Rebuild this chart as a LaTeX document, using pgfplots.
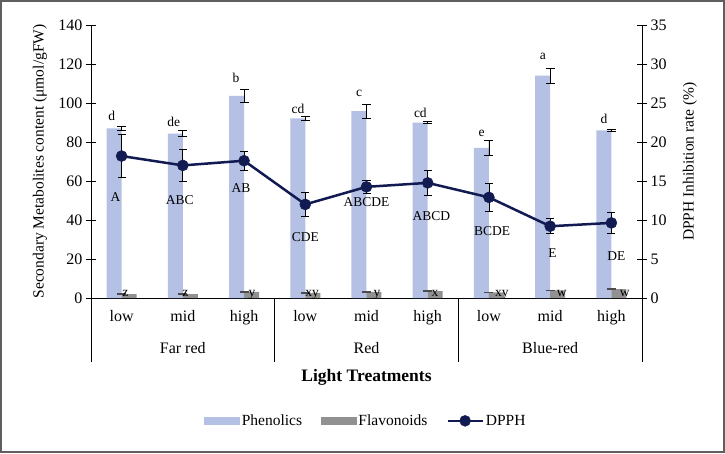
\documentclass[border=0pt]{standalone}
\usepackage{fontspec}
\setmainfont{Liberation Serif}
\usepackage{pgfplots}
\usepackage{pgfplotstable}
\pgfplotsset{compat=1.18}
\definecolor{phen}{RGB}{180,193,228}
\definecolor{flav}{RGB}{145,145,145}
\definecolor{dpph}{RGB}{18,26,82}
\definecolor{framegray}{RGB}{95,95,95}
\newcommand\fs[1]{\fontsize{#1}{#1}\selectfont}

\pgfplotstableread{
x p pe f fe d de
0 87.0 1.0 2.0 0.2 18.2 2.8
1 84.3 1.5 2.0 0.2 17.0 2.0
2 103.6 3.2 3.2 0.2 17.6 1.2
3 92.1 0.8 2.6 0.2 12.0 1.5
4 95.8 3.7 3.2 0.2 14.25 0.8
5 90.0 0.5 3.5 0.2 14.76 1.55
6 77.0 3.7 2.9 0.2 12.9 1.8
7 114.0 3.9 3.9 0.2 9.2 0.95
8 85.9 0.5 4.6 0.2 9.63 1.4
}\data

\begin{document}
\begin{tikzpicture}
\begin{axis}[
  scale only axis, width=551pt, height=273pt, at={(0,0)}, anchor=south west,
  xmin=-0.5, xmax=8.5, ymin=0, ymax=140,
  axis x line*=bottom, axis y line*=left,
  axis line style={line width=0.8pt, -},
  xtick={0,...,8}, xticklabels={low,mid,high,low,mid,high,low,mid,high},
  x tick style={draw=none},
  xticklabel style={font=\fs{16}, anchor=base, yshift=-23.5pt},
  ytick={0,20,...,140}, ytick align=center, major tick length=10pt,
  y tick style={line width=0.8pt, black},
  yticklabel style={font=\fs{16}},
  /pgf/number format/assume math mode=true,
  clip=false,
]
\addplot[ybar, bar width=15pt, bar shift=-7.5pt, fill=phen, draw=none,
  error bars/.cd, y dir=both, y explicit,
  error bar style={black, line width=0.8pt},
  error mark options={rotate=90, mark size=4.5pt, black, line width=0.8pt}]
  table[x=x, y=p, y error=pe] {\data};
\addplot[ybar, bar width=15pt, bar shift=7.5pt, fill=flav, draw=none,
  error bars/.cd, y dir=both, y explicit,
  error bar style={black!70, line width=0.8pt},
  error mark options={rotate=90, mark size=4.5pt, black!70, line width=0.8pt}]
  table[x=x, y=f, y error=fe] {\data};
% phenolics letters
\begin{scope}[every node/.style={font=\fs{13.5}, anchor=base, inner sep=0pt}]
\node at (axis cs:-0.16,90.9) {d};
\node at (axis cs:0.85,88.2) {de};
\node at (axis cs:1.87,110.4) {b};
\node at (axis cs:2.88,94.7) {cd};
\node at (axis cs:3.88,103.2) {c};
\node at (axis cs:4.88,92.7) {cd};
\node at (axis cs:5.88,82.7) {e};
\node at (axis cs:6.88,122.4) {a};
\node at (axis cs:7.88,89.6) {d};
% flavonoid letters
\node at (axis cs:0.06,0.6) {z};
\node at (axis cs:1.04,0.6) {z};
\node at (axis cs:2.13,0.6) {y};
\node at (axis cs:3.11,0.8) {xy};
\node at (axis cs:4.17,0.8) {y};
\node at (axis cs:5.12,0.8) {x};
\node at (axis cs:6.21,0.8) {xy};
\node at (axis cs:7.19,0.7) {w};
\node at (axis cs:8.22,0.7) {w};
\end{scope}
\end{axis}

\begin{axis}[
  scale only axis, width=551pt, height=273pt, at={(0,0)}, anchor=south west,
  xmin=-0.5, xmax=8.5, ymin=0, ymax=35,
  axis x line=none, axis y line*=right,
  axis line style={line width=0.8pt, -},
  ytick={0,5,...,35}, ytick align=center, major tick length=10pt,
  y tick style={line width=0.8pt, black},
  yticklabel style={font=\fs{16}},
  /pgf/number format/assume math mode=true,
  clip=false,
  legend style={at={(axis description cs:0.499,-0.45)}, anchor=center, draw=none, fill=none,
    legend columns=3, font=\fs{15.5},
    /tikz/every even column/.append style={column sep=17pt}},
]
\addlegendimage{legend image code/.code={\fill[phen] (0pt,-3.5pt) rectangle (35pt,3.5pt);}}
\addlegendentry{Phenolics}
\addlegendimage{legend image code/.code={\fill[flav] (0pt,-3.5pt) rectangle (35pt,3.5pt);}}
\addlegendentry{Flavonoids}
\addlegendimage{legend image code/.code={\draw[dpph, line width=2.5pt] (0pt,0pt) -- (35pt,0pt); \fill[dpph] (17.5pt,0pt) circle (5.5pt);}}
\addlegendentry{DPPH}
\addplot[dpph, line width=2.5pt, mark=*, mark size=5.5pt, mark options={fill=dpph, draw=dpph, line width=0.5pt},
  error bars/.cd, y dir=both, y explicit,
  error bar style={black, line width=0.8pt},
  error mark options={rotate=90, mark size=4pt, black, line width=0.8pt}]
  table[x=x, y=d, y error=de] {\data};
\begin{scope}[every node/.style={font=\fs{13.5}, anchor=base, inner sep=0pt}]
\node at (axis cs:-0.10,12.31) {A};
\node at (axis cs:0.95,12.05) {ABC};
\node at (axis cs:1.95,13.59) {AB};
\node at (axis cs:3.0,7.22) {CDE};
\node at (axis cs:4.0,11.71) {ABCDE};
\node at (axis cs:5.06,10.0) {ABCD};
\node at (axis cs:6.05,7.95) {BCDE};
\node at (axis cs:7.04,5.22) {E};
\node at (axis cs:8.08,4.78) {DE};
\end{scope}
\end{axis}

% group separators and labels
\foreach \xx in {0,183.67,367.33,551} \draw[line width=0.8pt] (\xx pt,0pt) -- (\xx pt,-64pt);
\node[font=\fs{16}, anchor=base] at (91.8pt,-55pt) {Far red};
\node[font=\fs{16}, anchor=base] at (275.5pt,-55pt) {Red};
\node[font=\fs{16}, anchor=base] at (459.2pt,-55pt) {Blue-red};
\node[font=\fs{17.5}\bfseries, anchor=base] at (275.5pt,-83pt) {Light Treatments};
\node[font=\fs{15.5}, rotate=90] at (-51pt,136.5pt) {Secondary Metabolites content (μmol/gFW)};
\node[font=\fs{15.5}, rotate=90] at (599pt,136.5pt) {DPPH Inhibition rate (\%)};
% frame
\draw[framegray, line width=2pt] (-90pt,-154pt) rectangle (633pt,297pt);
\end{tikzpicture}
\end{document}
